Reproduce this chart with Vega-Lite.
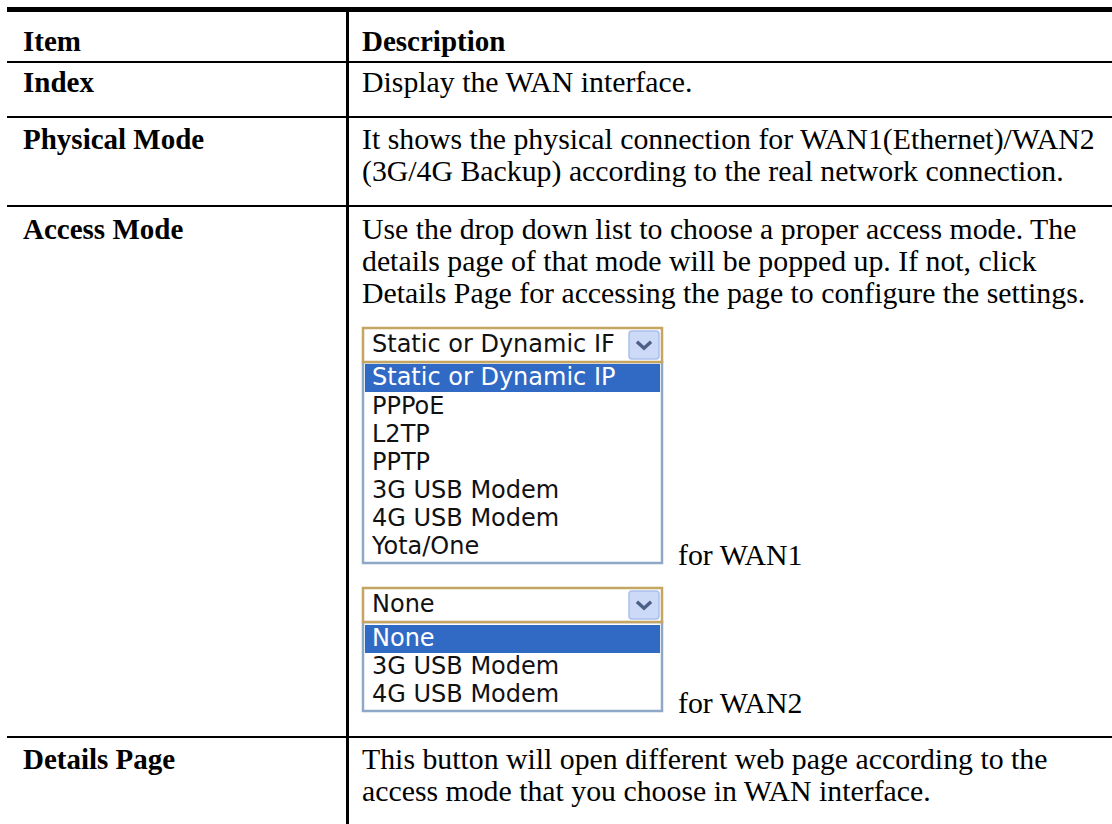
{
  "$schema": "https://vega.github.io/schema/vega-lite/v6.json",
  "width": 1112,
  "height": 824,
  "padding": 0,
  "autosize": {"type": "fit", "contains": "padding"},
  "background": "white",
  "config": {"view": {"stroke": null}},
  "datasets": {
    "lines": [
      {"x": 7, "x2": 1112, "y": 7, "y2": 12},
      {"x": 7, "x2": 1112, "y": 61, "y2": 63},
      {"x": 7, "x2": 1112, "y": 116, "y2": 118},
      {"x": 7, "x2": 1112, "y": 205, "y2": 207},
      {"x": 7, "x2": 1112, "y": 736, "y2": 738},
      {"x": 346, "x2": 349, "y": 12, "y2": 824}
    ],
    "closed": [
      {"x": 363, "x2": 662, "y": 328, "y2": 362},
      {"x": 363, "x2": 662, "y": 588, "y2": 622}
    ],
    "lists": [
      {"x": 363, "x2": 662, "y": 362, "y2": 563},
      {"x": 363, "x2": 662, "y": 622, "y2": 711}
    ],
    "highlights": [
      {"x": 365, "x2": 660, "y": 364, "y2": 392},
      {"x": 365, "x2": 660, "y": 625, "y2": 653}
    ],
    "buttons": [
      {"x": 629, "x2": 659, "y": 331, "y2": 359},
      {"x": 629, "x2": 659, "y": 591, "y2": 619}
    ],
    "chevrons": [
      {"x": 644, "y": 345},
      {"x": 644, "y": 605}
    ],
    "bold": [
      {"x": 23, "y": 51, "t": "Item"},
      {"x": 362, "y": 51, "t": "Description"},
      {"x": 23, "y": 92, "t": "Index"},
      {"x": 23, "y": 149, "t": "Physical Mode"},
      {"x": 23, "y": 239, "t": "Access Mode"},
      {"x": 23, "y": 769, "t": "Details Page"}
    ],
    "regular": [
      {"x": 362, "y": 92, "t": "Display the WAN interface."},
      {"x": 362, "y": 149, "t": "It shows the physical connection for WAN1(Ethernet)/WAN2"},
      {"x": 362, "y": 181, "t": "(3G/4G Backup) according to the real network connection."},
      {"x": 362, "y": 239, "t": "Use the drop down list to choose a proper access mode. The"},
      {"x": 362, "y": 271, "t": "details page of that mode will be popped up. If not, click"},
      {"x": 362, "y": 303, "t": "Details Page for accessing the page to configure the settings."},
      {"x": 678, "y": 565, "t": "for WAN1"},
      {"x": 678, "y": 713, "t": "for WAN2"},
      {"x": 362, "y": 769, "t": "This button will open different web page according to the"},
      {"x": 362, "y": 801, "t": "access mode that you choose in WAN interface."}
    ],
    "options": [
      {"x": 372, "y": 345, "t": "Static or Dynamic IF"},
      {"x": 372, "y": 407, "t": "PPPoE"},
      {"x": 372, "y": 435, "t": "L2TP"},
      {"x": 372, "y": 463, "t": "PPTP"},
      {"x": 372, "y": 491, "t": "3G USB Modem"},
      {"x": 372, "y": 519, "t": "4G USB Modem"},
      {"x": 372, "y": 547, "t": "Yota/One"},
      {"x": 372, "y": 605, "t": "None"},
      {"x": 372, "y": 667, "t": "3G USB Modem"},
      {"x": 372, "y": 695, "t": "4G USB Modem"}
    ],
    "selected": [
      {"x": 372, "y": 378, "t": "Static or Dynamic IP"},
      {"x": 372, "y": 639, "t": "None"}
    ]
  },
  "encoding": {
    "x": {"field": "x", "type": "quantitative", "axis": null, "scale": {"domain": [0, 1112], "nice": false, "zero": false}},
    "y": {"field": "y", "type": "quantitative", "axis": null, "scale": {"domain": [0, 824], "nice": false, "zero": false, "reverse": true}}
  },
  "layer": [
    {
      "data": {"name": "lines"},
      "mark": {"type": "rect", "color": "black"},
      "encoding": {"x2": {"field": "x2"}, "y2": {"field": "y2"}}
    },
    {
      "data": {"name": "lists"},
      "mark": {"type": "rect", "fill": "white", "stroke": "#8FA8C6", "strokeWidth": 2.5},
      "encoding": {"x2": {"field": "x2"}, "y2": {"field": "y2"}}
    },
    {
      "data": {"name": "closed"},
      "mark": {"type": "rect", "fill": "white", "stroke": "#C4A562", "strokeWidth": 2.5},
      "encoding": {"x2": {"field": "x2"}, "y2": {"field": "y2"}}
    },
    {
      "data": {"name": "highlights"},
      "mark": {"type": "rect", "fill": "#316AC5"},
      "encoding": {"x2": {"field": "x2"}, "y2": {"field": "y2"}}
    },
    {
      "data": {"name": "buttons"},
      "mark": {"type": "rect", "fill": "#CCDAF8", "stroke": "#A9C0EE", "strokeWidth": 1.5, "cornerRadius": 3},
      "encoding": {"x2": {"field": "x2"}, "y2": {"field": "y2"}}
    },
    {
      "data": {"name": "chevrons"},
      "mark": {"type": "point", "shape": "M -1 -0.45 L 0 0.45 L 1 -0.45", "size": 200, "filled": false, "stroke": "#4D5F86", "strokeWidth": 3.5, "opacity": 1}
    },
    {
      "data": {"name": "bold"},
      "mark": {"type": "text", "align": "left", "baseline": "alphabetic", "font": "Liberation Serif", "fontWeight": "bold", "fontSize": 29, "color": "black"},
      "encoding": {"text": {"field": "t"}}
    },
    {
      "data": {"name": "regular"},
      "mark": {"type": "text", "align": "left", "baseline": "alphabetic", "font": "Liberation Serif", "fontSize": 29.8, "color": "black"},
      "encoding": {"text": {"field": "t"}}
    },
    {
      "data": {"name": "options"},
      "mark": {"type": "text", "align": "left", "baseline": "middle", "font": "DejaVu Sans", "fontSize": 24, "color": "#111111"},
      "encoding": {"text": {"field": "t"}}
    },
    {
      "data": {"name": "selected"},
      "mark": {"type": "text", "align": "left", "baseline": "middle", "font": "DejaVu Sans", "fontSize": 24, "color": "white"},
      "encoding": {"text": {"field": "t"}}
    }
  ]
}
